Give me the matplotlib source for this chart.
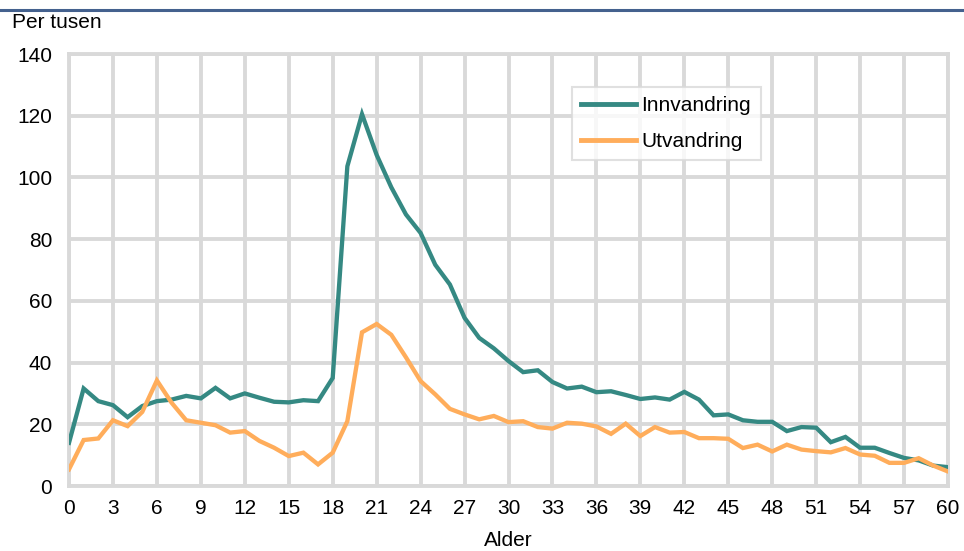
import numpy as np
import matplotlib.pyplot as plt

plt.rcParams['font.family'] = ['Liberation Sans', 'DejaVu Sans']

# data (per thousand, by age)
ages = np.arange(0, 61)
innvandring = [14.0, 31.6, 27.5, 26.2, 22.3, 25.9, 27.5, 28.0, 29.2, 28.4,
               31.8, 28.4, 30.0, 28.6, 27.3, 27.1, 27.8, 27.5, 35.0, 103.6,
               120.5, 107.3, 96.8, 88.0, 82.0, 71.7, 65.3, 54.5, 48.0, 44.6,
               40.5, 36.9, 37.5, 33.7, 31.6, 32.2, 30.4, 30.7, 29.5, 28.2,
               28.7, 28.0, 30.5, 28.0, 22.9, 23.2, 21.3, 20.8, 20.8, 17.8,
               19.1, 18.9, 14.2, 15.9, 12.4, 12.4, 10.7, 9.1, 8.3, 6.6, 6.1]
utvandring = [5.4, 14.9, 15.4, 21.3, 19.4, 24.0, 34.2, 27.0, 21.3, 20.5,
              19.7, 17.3, 17.8, 14.6, 12.4, 9.7, 10.8, 7.0, 10.8, 21.0,
              49.8, 52.5, 49.0, 41.7, 34.0, 29.7, 25.0, 23.2, 21.6, 22.7,
              20.7, 21.0, 19.1, 18.6, 20.5, 20.2, 19.3, 16.9, 20.2, 16.2,
              19.1, 17.3, 17.5, 15.5, 15.5, 15.3, 12.3, 13.4, 11.2, 13.4,
              11.8, 11.3, 10.9, 12.3, 10.2, 9.8, 7.5, 7.5, 9.0, 6.6, 4.7]

x_ticks = np.arange(0, 61, 3)
y_ticks = np.arange(0, 141, 20)

teal = '#358983'
orange = '#ffad5b'
grid_col = '#d9d9d9'
fs = 15

fig = plt.figure(figsize=(9.64, 5.51), dpi=100)
ax = fig.add_axes([69 / 964, (551 - 486) / 551, (948 - 69) / 964, (486 - 54) / 551])

ax.plot(ages, innvandring, color=teal, lw=3.1, label='Innvandring',
        solid_joinstyle='miter', zorder=3)
ax.plot(ages, utvandring, color=orange, lw=3.1, label='Utvandring',
        solid_joinstyle='miter', zorder=3)

ax.set_xlim(0, 60)
ax.set_ylim(0, 140)
ax.set_xticks(x_ticks)
ax.set_yticks(y_ticks)
ax.grid(True, color=grid_col, lw=2.8)
ax.set_axisbelow(True)
for s in ax.spines.values():
    s.set_color(grid_col)
    s.set_linewidth(2.8)
ax.tick_params(length=0, labelsize=fs, colors='black')
ax.tick_params(axis='x', pad=9)
ax.tick_params(axis='y', pad=12)

ax.set_xlabel('Alder', fontsize=fs, labelpad=10)

fig.text(12 / 964, 1 - 22 / 551, 'Per tusen', fontsize=fs, va='center', ha='left')

# blue rule along the top
fig.add_artist(plt.Line2D([0, 1], [1 - 10 / 551, 1 - 10 / 551], color='#44618e', lw=2.2))

leg = ax.legend(loc='upper left', bbox_to_anchor=(0.572, 0.924), fontsize=fs,
                frameon=True, fancybox=False, handlelength=2.65, handletextpad=0.25,
                borderpad=0.45, labelspacing=0.8, borderaxespad=0)
leg.get_frame().set_edgecolor(grid_col)
leg.get_frame().set_linewidth(1.5)
for line in leg.get_lines():
    line.set_linewidth(3.5)

fig.savefig('out.png', dpi=100)
